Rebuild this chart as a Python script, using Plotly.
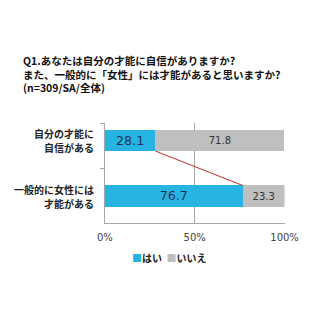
import plotly.graph_objects as go

categories = [["自分の才能に", "自信がある"], ["一般的に女性には", "才能がある"]]
yes_vals = [28.1, 76.7]
no_vals = [71.8, 23.3]
series_names = ["はい", "いいえ"]
tick_vals = [0, 50, 100]
tick_text = ["0%", "50%", "100%"]

W, H = 320, 320
FONT = "Noto Sans CJK JP"
BLUE = "#27B4E2"
GRAY = "#BFBFBF"

def px(x):
    return x / W

def py(y):
    return 1 - y / H

ypos = list(range(len(categories)))
bw = 0.38

fig = go.Figure()
fig.add_trace(go.Bar(
    y=ypos, x=yes_vals, orientation="h", name=series_names[0],
    marker=dict(color=BLUE, line=dict(width=0)), width=bw,
    text=[f"{v:.1f}" for v in yes_vals], textposition="inside",
    insidetextanchor="middle", showlegend=False,
    textfont=dict(family="DejaVu Sans", size=16, color="#1E3553"),
))
fig.add_trace(go.Bar(
    y=ypos, x=no_vals, orientation="h", name=series_names[1],
    marker=dict(color=GRAY, line=dict(width=0)), width=bw,
    text=[f"{v:.1f}" for v in no_vals], textposition="inside",
    insidetextanchor="middle", showlegend=False,
    textfont=dict(family="DejaVu Sans", size=10, color="#333333"),
))
# connector line between "yes" ends
fig.add_trace(go.Scatter(
    x=[yes_vals[0], yes_vals[1]], y=[ypos[0] + bw / 2, ypos[1] - bw / 2],
    mode="lines", line=dict(color="#C0302A", width=1),
    showlegend=False, hoverinfo="skip",
))

annotations = []
for i, lines in enumerate(categories):
    for j, line in enumerate(lines):
        annotations.append(dict(
            text=line, x=px(94), xref="paper", xanchor="right",
            y=i, yref="y", yanchor="middle", yshift=7 - 14 * j,
            showarrow=False, align="right",
            font=dict(family=FONT, size=10, color="#222222", weight="bold"),
        ))

title_lines = [
    "Q1.あなたは自分の才能に自信がありますか?",
    "また、一般的に「女性」には才能があると思いますか?",
    "(n=309/SA/全体)",
]
annotations.append(dict(
    text="<br>".join(title_lines), x=px(14), y=py(73.5), xref="paper", yref="paper",
    xanchor="left", yanchor="middle", showarrow=False, align="left",
    font=dict(family=FONT, size=10.5, color="#111111", weight="bold"),
))

# legend built from series names and colours
annotations.append(dict(
    text=(f"<span style='color:{BLUE}'>■</span>{series_names[0]}  "
          f"<span style='color:{GRAY}'>■</span>{series_names[1]}"),
    x=px(131), y=py(257), xref="paper", yref="paper", xanchor="left",
    yanchor="middle", showarrow=False,
    font=dict(family=FONT, size=10, color="#222222", weight="bold"),
))

fig.update_layout(
    width=W, height=H, barmode="stack",
    margin=dict(l=0, r=0, t=0, b=0),
    paper_bgcolor="white", plot_bgcolor="white",
    annotations=annotations,
    showlegend=False,
    xaxis=dict(domain=[px(104), px(297)], range=[0, 100], tickvals=tick_vals,
               ticktext=tick_text, showgrid=True, gridcolor="#A6A6A6", gridwidth=1,
               showline=True, linecolor="#A6A6A6", ticks="outside", ticklen=5,
               tickcolor="rgba(0,0,0,0)", zeroline=False,
               tickfont=dict(family="DejaVu Sans", size=10, color="#444444")),
    yaxis=dict(domain=[py(223), py(123)], range=[1.486, -0.315], showticklabels=False,
               showgrid=False, zeroline=False, showline=True, linecolor="#A6A6A6",
               tickvals=[-0.315, 0.5], ticks="outside", ticklen=4, tickcolor="#A6A6A6"),
)

fig.write_html("out.html")
